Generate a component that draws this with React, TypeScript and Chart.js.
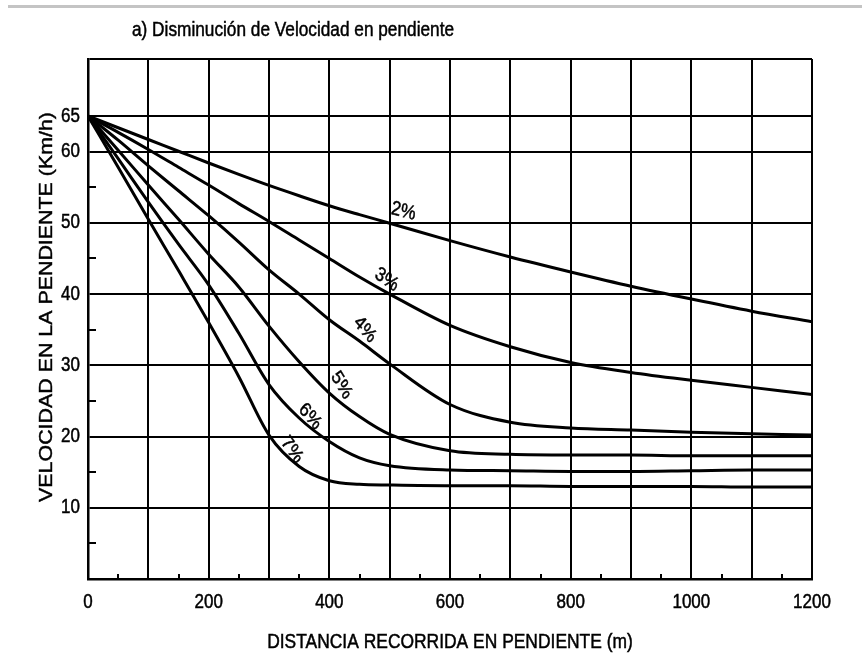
import React, { useEffect, useRef } from "react";
import { Chart, registerables } from "chart.js";

Chart.register(...registerables);

// ---- data ----
const distances = [0, 50, 100, 150, 200, 250, 300, 350, 400, 450, 500, 600, 700, 800, 900, 1000, 1100, 1200];
const grade2 = [65, 63.35, 61.7, 60.05, 58.4, 56.8, 55.25, 53.8, 52.4, 51.15, 49.95, 47.5, 45.2, 43.1, 41.1, 39.3, 37.6, 36.1];
const grade3 = [65, 62.7, 60.3, 57.8, 55.3, 52.7, 50.2, 47.6, 45, 42.4, 40, 35.6, 32.6, 30.4, 29, 27.9, 26.9, 25.9];
const grade4 = [65, 61.6, 58, 54.5, 51, 47.3, 43.4, 40, 36.4, 33.4, 30.2, 24.5, 22, 21.2, 20.9, 20.6, 20.4, 20.2];
const grade5 = [65, 60.2, 55.3, 50.5, 45.6, 41, 35.5, 30.5, 26.1, 22.8, 20.3, 18, 17.5, 17.4, 17.4, 17.3, 17.3, 17.3];
const grade6 = [65, 59, 52.9, 47, 41.3, 34.5, 27.3, 22.6, 19.3, 17, 15.9, 15.3, 15.2, 15.1, 15.1, 15.2, 15.3, 15.3];
const grade7 = [65, 57.8, 50.5, 43.3, 36, 28.4, 20.2, 15.8, 13.8, 13.3, 13.2, 13.1, 13.1, 13, 13, 13, 12.9, 12.9];
const seriesValues = [grade2, grade3, grade4, grade5, grade6, grade7];

// curve annotations (data units)
const curveLabels = ["2%", "3%", "4%", "5%", "6%", "7%"];
const curveLabelX = [523, 495, 459, 420, 368, 338];
const curveLabelY = [51.6, 42, 35, 27.2, 22.8, 18.1];
const curveLabelAngle = [12, 30, 45, 55, 45, 50];

// axes
const xMin = 0;
const xMax = 1200;
const xStep = 100;
const xLabelEvery = 200;
const xMinorTicks = [50, 150, 250, 350, 450, 550, 650, 750, 850, 950, 1050, 1150];
const yMin = 0;
const yMax = 73;
const yGridTicks = [0, 10, 20, 30, 40, 50, 60, 65, 73];
const yLabeledTicks = [10, 20, 30, 40, 50, 60, 65];
const yMinorTicks = [5, 15, 25, 35, 45, 55];

const titleText = "a) Disminución de Velocidad en pendiente";
const yTitleText = "VELOCIDAD EN LA PENDIENTE (Km/h)";
const xTitleText = "DISTANCIA RECORRIDA EN PENDIENTE (m)";

const FONT = "'Liberation Sans', Arial, sans-serif";
const SQUEEZE = 0.85;

function drawText(
  ctx: CanvasRenderingContext2D,
  text: string,
  x: number,
  y: number,
  size: number,
  align: CanvasTextAlign,
  angleDeg = 0,
  squeezeAlongText = true
) {
  ctx.save();
  ctx.translate(x, y);
  if (squeezeAlongText) {
    ctx.scale(SQUEEZE, 1);
    ctx.rotate((angleDeg * Math.PI) / 180);
  } else {
    ctx.rotate((angleDeg * Math.PI) / 180);
    ctx.scale(1, SQUEEZE);
  }
  ctx.font = `${size}px ${FONT}`;
  ctx.textAlign = align;
  ctx.textBaseline = "middle";
  ctx.fillStyle = "#000";
  ctx.strokeStyle = "#000";
  ctx.lineWidth = 0.5;
  ctx.fillText(text, 0, 0);
  ctx.strokeText(text, 0, 0);
  ctx.restore();
}

export default function App() {
  const ref = useRef<HTMLCanvasElement | null>(null);

  useEffect(() => {
    const canvas = ref.current;
    if (!canvas) return;

    const decorations = {
      id: "decorations",
      afterDraw(chart: any) {
        const ctx = chart.ctx as CanvasRenderingContext2D;
        const xs = chart.scales.x;
        const ys = chart.scales.y;
        const area = chart.chartArea;
        ctx.save();
        // minor ticks
        ctx.strokeStyle = "#000";
        ctx.lineWidth = 2;
        yMinorTicks.forEach((v) => {
          const y = Math.round(ys.getPixelForValue(v));
          ctx.beginPath();
          ctx.moveTo(area.left, y);
          ctx.lineTo(area.left + 8, y);
          ctx.stroke();
        });
        xMinorTicks.forEach((v) => {
          const x = Math.round(xs.getPixelForValue(v));
          ctx.beginPath();
          ctx.moveTo(x, area.bottom);
          ctx.lineTo(x, area.bottom - 5);
          ctx.stroke();
        });
        // tick labels
        xs.ticks.forEach((t: any) => {
          if (t.value % xLabelEvery !== 0) return;
          drawText(ctx, String(t.value), xs.getPixelForValue(t.value), area.bottom + 23, 20, "center");
        });
        ys.ticks.forEach((t: any) => {
          if (!yLabeledTicks.includes(t.value)) return;
          drawText(ctx, String(t.value), area.left - 8, ys.getPixelForValue(t.value), 20, "right");
        });
        // axis titles
        drawText(ctx, xTitleText, (area.left + area.right) / 2, 642, 20.5, "center");
        drawText(ctx, yTitleText, 47, (area.top + area.bottom) / 2 - 12, 21.4, "center", -90, false);
        // chart title
        drawText(ctx, titleText, area.left + 44, 30, 20.3, "left");
        // curve labels
        curveLabels.forEach((t, i) => {
          drawText(
            ctx,
            t,
            xs.getPixelForValue(curveLabelX[i]),
            ys.getPixelForValue(curveLabelY[i]),
            20,
            "center",
            curveLabelAngle[i]
          );
        });
        ctx.restore();
      },
    };

    const chart = new Chart(canvas, {
      type: "line",
      data: {
        datasets: seriesValues.map((vals, i) => ({
          label: curveLabels[i],
          data: distances.map((d, j) => ({ x: d, y: vals[j] })),
          borderColor: "#000",
          borderWidth: 3,
          pointRadius: 0,
          fill: false,
          cubicInterpolationMode: "monotone" as const,
        })),
      },
      options: {
        animation: false,
        responsive: false,
        layout: { padding: { left: 8, top: 59, right: 50, bottom: 0 } },
        plugins: {
          legend: { display: false },
          tooltip: { enabled: false },
          title: { display: false },
        },
        scales: {
          x: {
            type: "linear",
            min: xMin,
            max: xMax,
            afterFit: (s: any) => {
              s.height = 76;
            },
            ticks: {
              stepSize: xStep,
              autoSkip: false,
              maxRotation: 0,
              display: false,
            },
            grid: { color: "#000", lineWidth: 2, drawTicks: false },
            border: { display: true, color: "#000", width: 2.5 },
          },
          y: {
            type: "linear",
            min: yMin,
            max: yMax,
            afterFit: (s: any) => {
              s.width = 80;
            },
            afterBuildTicks: (s: any) => {
              s.ticks = yGridTicks.map((v) => ({ value: v }));
            },
            ticks: {
              autoSkip: false,
              display: false,
            },
            grid: { color: "#000", lineWidth: 2, drawTicks: false },
            border: { display: true, color: "#000", width: 2.5 },
          },
        },
      },
      plugins: [decorations],
    });
    return () => chart.destroy();
  }, []);

  return (
    <div style={{ position: "absolute", left: 0, top: 0, width: 862, height: 655, background: "#fff" }}>
      <div style={{ position: "absolute", left: 8, right: 0, top: 5, height: 3, background: "#c4c4c4" }} />
      <canvas ref={ref} width={862} height={655} style={{ position: "absolute", left: 0, top: 0 }} />
    </div>
  );
}
